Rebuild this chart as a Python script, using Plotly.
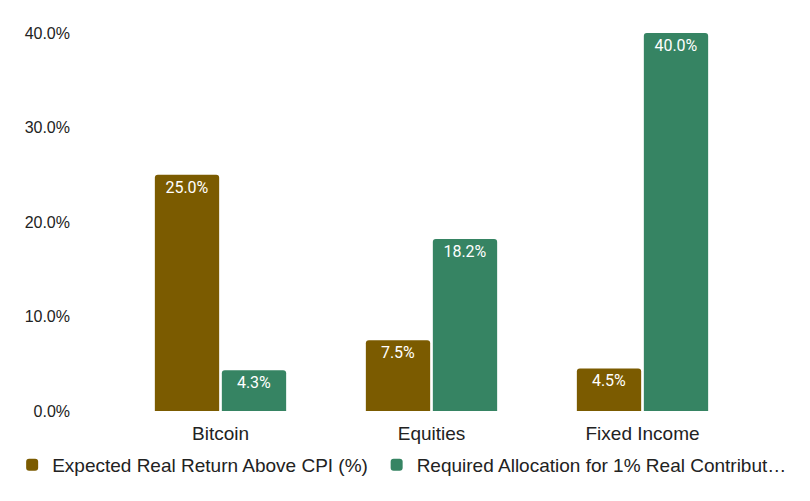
import plotly.graph_objects as go

categories = ["Bitcoin", "Equities", "Fixed Income"]
expected_return = [25.0, 7.5, 4.5]
required_alloc = [4.3, 18.2, 40.0]
series_names = ["Expected Real Return Above CPI (%)", "Required Allocation for 1% Real Contribut\u2026"]
tick_vals = [0, 10, 20, 30, 40]
tick_text = ["0.0%", "10.0%", "20.0%", "30.0%", "40.0%"]

colors = ["#7B5B00", "#368463"]
legend_ids = ["legend", "legend2"]

fig = go.Figure()
for name, vals, c, lg in zip(series_names, [expected_return, required_alloc], colors, legend_ids):
    fig.add_trace(go.Bar(
        x=categories, y=vals, name=name, legend=lg, showlegend=True,
        marker=dict(color=c, cornerradius=3, line=dict(width=0)),
        texttemplate="%{y:.1f}%", textposition="inside", insidetextanchor="end",
        textfont=dict(color="white", size=16, family="Roboto"),
        textangle=0,
    ))

legend_style = dict(orientation="h", xref="container", yref="container", y=0.072,
                    yanchor="middle", font=dict(size=19, color="#222"), itemwidth=30,
                    bgcolor="rgba(0,0,0,0)", visible=True)

fig.update_layout(
    width=810, height=501, showlegend=True,
    margin=dict(l=115, r=62, t=33, b=90, autoexpand=False),
    paper_bgcolor="white", plot_bgcolor="white",
    barmode="group", bargap=0.365, bargroupgap=0.04,
    font=dict(family="Liberation Sans, Arial", size=16, color="#222"),
    xaxis=dict(showgrid=False, showline=False, ticks="", ticklabelstandoff=9,
               tickfont=dict(size=19, color="#222")),
    yaxis=dict(range=[0, 40], tickvals=tick_vals, ticktext=tick_text, showgrid=False,
               zeroline=False, showline=False, ticks="", ticklabelstandoff=44,
               tickfont=dict(size=16, color="#222")),
    legend=dict(x=0.015, **legend_style),
    legend2=dict(x=0.465, **legend_style),
    uniformtext=dict(mode="show", minsize=10),
)

fig.write_html("out.html")
